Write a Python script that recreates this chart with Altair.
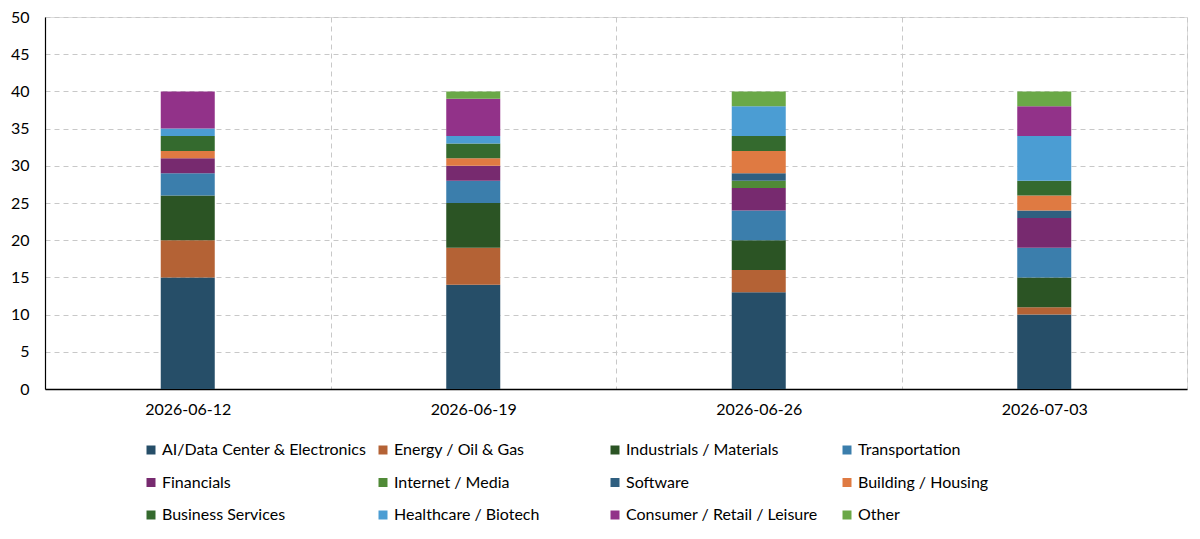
import altair as alt
import pandas as pd

weeks = ["2026-06-12", "2026-06-19", "2026-06-26", "2026-07-03"]
sectors = [
    "AI/Data Center & Electronics", "Energy / Oil & Gas", "Industrials / Materials", "Transportation",
    "Financials", "Internet / Media", "Software", "Building / Housing",
    "Business Services", "Healthcare / Biotech", "Consumer / Retail / Leisure", "Other",
]
colors = [
    "#264e68", "#b46235", "#2b5424", "#3b7eac",
    "#772a6f", "#508a37", "#2f5f80", "#df7a42",
    "#346a2e", "#4b9dd3", "#923289", "#6aa847",
]
# values per sector, one per week
values = {
    "AI/Data Center & Electronics": [15, 14, 13, 10],
    "Energy / Oil & Gas": [5, 5, 3, 1],
    "Industrials / Materials": [6, 6, 4, 4],
    "Transportation": [3, 3, 4, 4],
    "Financials": [2, 2, 3, 4],
    "Internet / Media": [0, 0, 1, 0],
    "Software": [0, 0, 1, 1],
    "Building / Housing": [1, 1, 3, 2],
    "Business Services": [2, 2, 2, 2],
    "Healthcare / Biotech": [1, 1, 4, 6],
    "Consumer / Retail / Leisure": [5, 5, 0, 4],
    "Other": [0, 1, 2, 2],
}

rows = []
for i, s in enumerate(sectors):
    for w, v in zip(weeks, values[s]):
        rows.append({"week": w, "sector": s, "value": v, "idx": i})
df = pd.DataFrame(rows)

FONT = "Lato"

chart = (
    alt.Chart(df)
    .mark_bar(size=54)
    .encode(
        x=alt.X(
            "week:N",
            sort=weeks,
            title=None,
            scale=alt.Scale(paddingInner=0, paddingOuter=0),
            axis=alt.Axis(
                labelAngle=0, labelFontSize=16, labelColor="#000", labelFont=FONT,
                labelPadding=12, ticks=False, grid=True, tickBand="extent",
                gridDash=[5, 4], gridColor="#c8c8c8", gridWidth=1,
                domainColor="#000", domainWidth=1.5,
            ),
        ),
        y=alt.Y(
            "value:Q",
            stack="zero",
            title=None,
            scale=alt.Scale(domain=[0, 50], nice=False),
            axis=alt.Axis(
                values=list(range(0, 51, 5)), labelFontSize=16, labelColor="#000",
                labelFont=FONT, labelPadding=16, ticks=False, grid=True,
                gridDash=[5, 4], gridColor="#c8c8c8", gridWidth=1,
                domainColor="#000", domainWidth=1.2,
            ),
        ),
        color=alt.Color(
            "sector:N",
            scale=alt.Scale(domain=sectors, range=colors),
            legend=alt.Legend(
                title=None, orient="none", legendX=98, legendY=425, direction="horizontal",
                columns=4, gridAlign="all", symbolType="square", symbolSize=81,
                symbolStrokeWidth=0, labelFontSize=16, labelFont=FONT, labelColor="#000",
                labelLimit=300, columnPadding=8, rowPadding=16.5, labelOffset=3,
            ),
        ),
        order=alt.Order("idx:Q", sort="ascending"),
    )
    .properties(
        width=1142, height=372,
        autosize=alt.AutoSizeParams(type="none"),
        padding={"left": 45, "top": 17, "right": 13, "bottom": 150},
    )
    .configure_view(stroke=None)
    .configure(background="white")
)

chart.save("out.html", embed_options={"renderer": "svg", "actions": False})
